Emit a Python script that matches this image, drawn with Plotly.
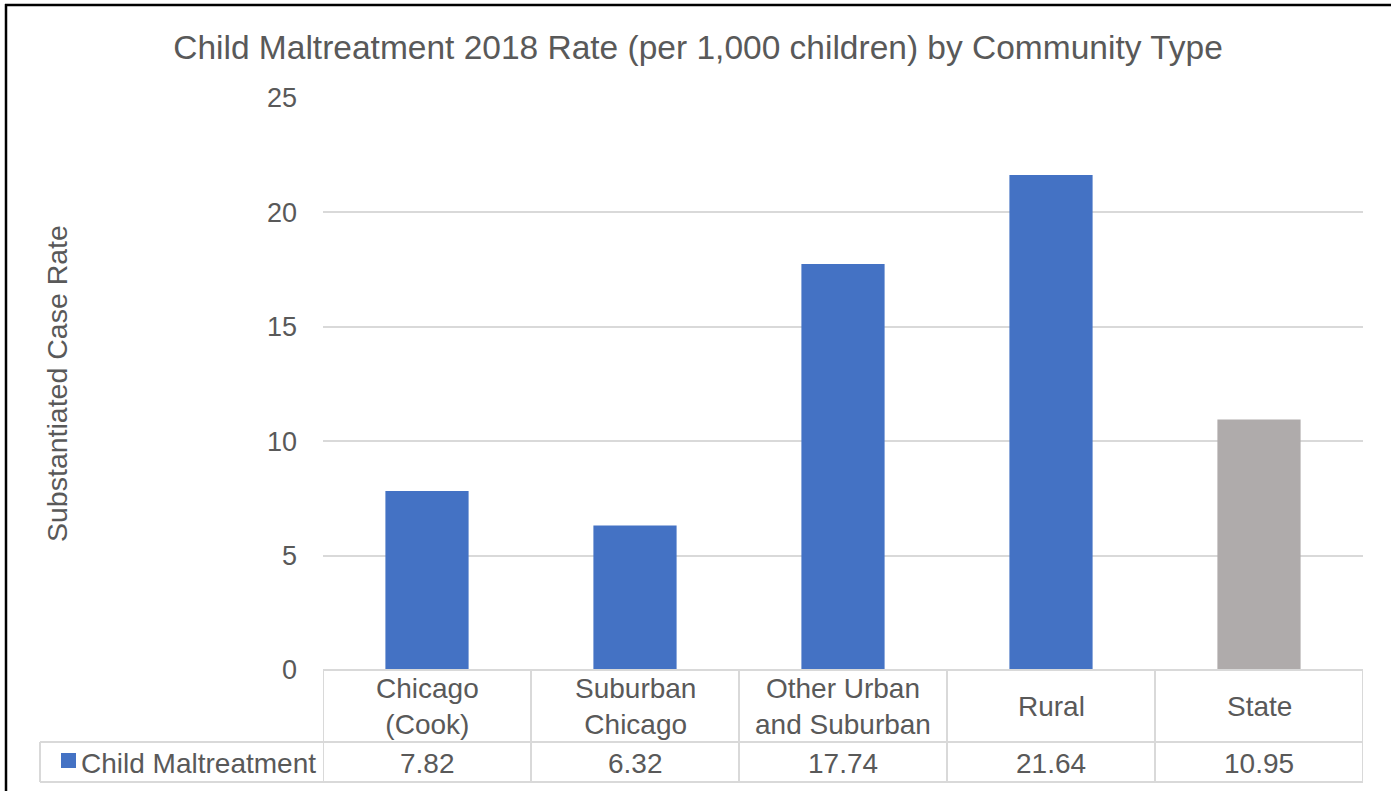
import plotly.graph_objects as go

# ---- data ----
categories = ["Chicago (Cook)", "Suburban Chicago", "Other Urban and Suburban", "Rural", "State"]
category_labels = ["Chicago<br>(Cook)", "Suburban<br>Chicago", "Other Urban<br>and Suburban", "Rural", "State"]
values = [7.82, 6.32, 17.74, 21.64, 10.95]
series_name = "Child Maltreatment"
bar_colors = ["#4472C4", "#4472C4", "#4472C4", "#4472C4", "#AFABAB"]
y_ticks = [0, 5, 10, 15, 20, 25]
title_text = "Child Maltreatment 2018 Rate (per 1,000 children) by Community Type"
y_title = "Substantiated Case Rate"

# ---- layout constants (pixels) ----
W, H = 1391, 791
L, R, T, B = 323, 28, 98, 121
PW, PH = W - L - R, H - T - B
FONT = "Liberation Sans, Arial, sans-serif"
TXT = "#595959"
LINE = "#D9D9D9"
FS = 28


def px_x(px):
    return (px - L) / PW


def px_y(py):
    return (H - B - py) / PH


fig = go.Figure()
fig.add_trace(go.Bar(
    x=categories, y=values, name=series_name,
    marker=dict(color=bar_colors, line=dict(width=0)),
    hoverinfo="skip", showlegend=False,
))

shapes = []
annotations = []

row1_top, row1_bot, row2_bot = H - B, 742, 782
n = len(categories)

# table horizontal lines (within plot width)
for py in (row1_top, row1_bot, row2_bot):
    shapes.append(dict(type="line", xref="paper", yref="paper",
                       x0=0, x1=1, y0=px_y(py), y1=px_y(py),
                       line=dict(color=LINE, width=2)))
# legend cell lines
leg_left = 40
for py in (row1_bot, row2_bot):
    shapes.append(dict(type="line", xref="paper", yref="paper",
                       x0=px_x(leg_left), x1=0, y0=px_y(py), y1=px_y(py),
                       line=dict(color=LINE, width=2)))
shapes.append(dict(type="line", xref="paper", yref="paper",
                   x0=px_x(leg_left), x1=px_x(leg_left), y0=px_y(row1_bot), y1=px_y(row2_bot),
                   line=dict(color=LINE, width=2)))
# vertical table lines at category boundaries
for i in range(n + 1):
    shapes.append(dict(type="line", xref="x", yref="paper",
                       x0=i - 0.5, x1=i - 0.5, y0=px_y(row1_top), y1=px_y(row2_bot),
                       line=dict(color=LINE, width=2)))
# legend key square
shapes.append(dict(type="rect", xref="paper", yref="paper",
                   x0=px_x(61), x1=px_x(76), y0=px_y(753), y1=px_y(768),
                   fillcolor=bar_colors[0], line=dict(width=0)))
# outer black border (top and left visible)
shapes.append(dict(type="line", xref="paper", yref="paper",
                   x0=px_x(5), x1=px_x(W + 5), y0=px_y(5), y1=px_y(5),
                   line=dict(color="black", width=2.5)))
shapes.append(dict(type="line", xref="paper", yref="paper",
                   x0=px_x(6), x1=px_x(6), y0=px_y(4), y1=px_y(H + 5),
                   line=dict(color="black", width=2.5)))

# table text
for cat, lab, v in zip(categories, category_labels, values):
    annotations.append(dict(x=cat, xref="x", y=px_y((row1_top + row1_bot) / 2), yref="paper",
                            text=lab, showarrow=False, xanchor="center", yanchor="middle",
                            font=dict(family=FONT, size=FS, color=TXT)))
    annotations.append(dict(x=cat, xref="x", y=px_y((row1_bot + row2_bot) / 2 + 1), yref="paper",
                            text=f"{v:.2f}", showarrow=False, xanchor="center", yanchor="middle",
                            font=dict(family=FONT, size=FS, color=TXT)))
annotations.append(dict(x=px_x(79), xref="paper", y=px_y((row1_bot + row2_bot) / 2 + 1), yref="paper",
                        text=series_name, showarrow=False, xanchor="left", yanchor="middle",
                        font=dict(family=FONT, size=FS, color=TXT)))
# y axis title
annotations.append(dict(x=px_x(57), xref="paper", y=px_y(384), yref="paper",
                        text=y_title, textangle=-90, showarrow=False,
                        xanchor="center", yanchor="middle",
                        font=dict(family=FONT, size=FS + 0.5, color=TXT)))

fig.update_layout(
    width=W, height=H,
    margin=dict(l=L, r=R, t=T, b=B, pad=0),
    paper_bgcolor="white", plot_bgcolor="white",
    bargap=0.6,
    title=dict(text=title_text, x=698 / W, xanchor="center", xref="container",
               y=1 - 47 / H, yanchor="middle", yref="container",
               font=dict(family=FONT, size=33.5, color=TXT)),
    xaxis=dict(type="category", categoryorder="array", categoryarray=categories,
               range=[-0.5, n - 0.5], showticklabels=False, showgrid=False,
               zeroline=False, showline=False, ticks=""),
    yaxis=dict(range=[0, 25], tickvals=y_ticks, ticktext=[str(t) for t in y_ticks],
               showgrid=True, gridcolor=LINE, gridwidth=1.8, zeroline=False,
               showline=False, ticks="", ticklabelstandoff=25,
               tickfont=dict(family=FONT, size=27, color=TXT)),
    shapes=shapes, annotations=annotations,
    showlegend=False,
)

fig.write_html("out.html")
